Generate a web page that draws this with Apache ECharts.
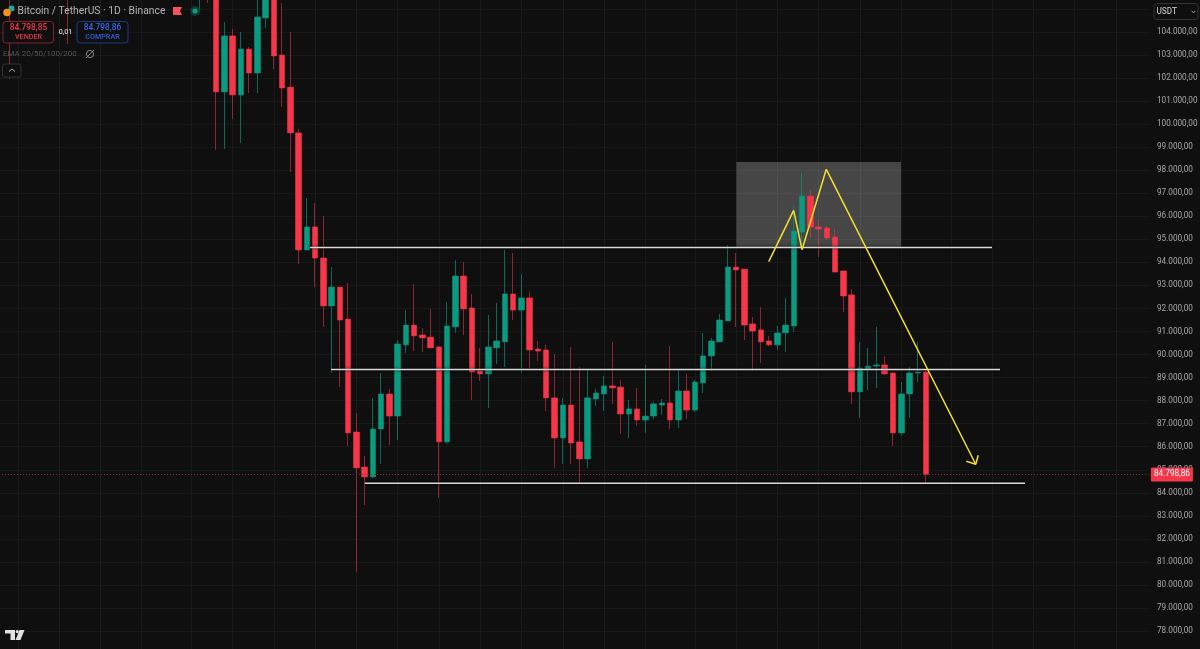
<html>

<head>
    <meta charset='utf-8' />
    <script src="https://cdn.jsdelivr.net/npm/echarts@6/dist/echarts.min.js"></script>
    <title>Bitcoin / TetherUS 1D</title>
    <style>
        html, body { margin: 0; padding: 0; background: #0f0f0f; overflow: hidden; }
        #chart { width: 1200px; height: 649px; }
    </style>
</head>

<body>
    <div id="chart"></div>
    <script type="text/javascript">
        // candles 0..86, left to right
        var opens = [105480,101400,103830,101270,103260,102220,104610,105600,103000,101610,99620,94540,95540,94190,92110,92930,91540,86640,85120,84690,86770,88290,87330,90420,91280,90850,90760,90330,86210,91200,93410,92020,89290,89160,90290,90550,92630,91930,92460,90240,90200,88120,86380,87810,86210,85470,88070,88290,88640,88590,87420,87640,87160,87330,87810,87900,87160,88420,87590,88770,89940,90550,91460,93800,93710,91330,91070,90590,90420,90940,91240,95320,96880,95540,95490,95100,93630,92590,88380,89370,89500,89550,89200,86600,88290,89200,89240];
        var closes = [101400,103830,101270,103260,102220,104650,105600,102960,101570,99620,94540,95540,94190,92110,92930,91500,86600,85080,84690,86770,88290,87330,90460,91280,90810,90720,90290,86210,91240,93410,91980,89240,89160,90330,90590,92630,91930,92460,90200,90150,88120,86380,87810,86160,85470,88120,88330,88640,88550,87420,87640,87160,87330,87860,87900,87160,88420,87590,88810,89940,90590,91500,93800,93670,91280,91020,90550,90420,90940,91280,95360,96880,95540,95450,95060,93580,92540,88380,89420,89500,89550,89160,86600,88290,89200,89240,84798.86];
        var highs = [106100,104430,104130,104000,103350,105480,106100,106200,105260,104000,99790,96800,96580,96010,93800,92930,93110,87460,85600,88120,89200,88510,90630,91930,93060,91150,91980,90370,92280,94100,94020,92630,90290,91720,92240,94540,94410,93500,92720,90590,90420,90030,88120,90330,89460,89370,88510,89070,90550,88900,88030,88550,89550,87940,88070,90370,89370,89160,88900,90940,90720,91760,94760,94410,93710,91630,92070,90810,91240,92460,96450,97880,97140,95840,95580,95450,93630,92850,90550,90290,91200,89940,89240,88810,89460,90550,89370];
        var lows = [98880,98920,100220,99180,101350,101350,104170,102390,100750,97920,93930,94540,92930,91200,89200,88590,86030,80560,83470,84640,85250,86080,86290,90070,90150,90110,90290,83780,86120,90940,90850,88030,88850,87680,89590,89460,91500,89200,89420,89720,87550,85080,85250,85250,84430,85080,87770,87550,87860,86550,86380,86900,86600,87200,87380,86770,86810,87200,87510,88330,89290,90550,91460,91200,90630,89290,89630,90370,90200,90110,90980,94540,95060,94230,94970,93580,91850,87860,87250,88460,88550,89110,86030,86470,87250,88810,84380];

        // partly visible candles left of candle 0, only their wicks reach the frame
        var leftIndex = [-25, -18, -2, -1];
        var leftOpens = [107500, 107200, 106300, 107400];
        var leftCloses = [106800, 106600, 107000, 106500];
        var leftHighs = [108000, 108000, 107500, 107800];
        var leftLows = [101960, 103480, 104820, 105260];

        var lastPrice = 84798.86;

        // drawings, x is in candle numbers
        var levelTop = [[11.39, 94647], [93.99, 94647]];
        var levelMid = [[13.93, 89352], [94.96, 89352]];
        var levelLow = [[18.01, 84413], [97.98, 84413]];
        var zoneBox = [[63.04, 98358], [82.97, 94647]];
        var zigzag = [[66.95, 94031], [69.97, 96261], [70.98, 94551], [73.92, 98041], [92.02, 85238]];
        var arrowHead = [[92.33, 85628], [92.02, 85238], [90.88, 85368]];

        // candle numbers of the vertical grid
        var gridCandles = [-24, -19, -14, -9, -3, 2, 7, 12, 17, 22, 27, 32, 37, 42, 47, 52, 58, 63, 68, 73, 78, 83, 89, 94, 99, 104, 109];

        var firstCandle = -27, lastCandle = 113;
        var red = '#f7364a', teal = '#099a80';
        var redWick = 'rgba(247,54,74,0.55)', tealWick = 'rgba(9,154,128,0.65)';
        var textFont = 'Roboto, sans-serif';

        var categories = [], wickData = [], bodyData = [];
        for (var c = firstCandle; c <= lastCandle; c++) {
            categories.push(String(c));
            wickData.push('-');
            bodyData.push('-');
        }

        function putCandle(i, o, cl, h, l) {
            var k = i - firstCandle;
            wickData[k] = [o, cl, l, h];
            bodyData[k] = [o, cl, Math.min(o, cl), Math.max(o, cl)];
        }
        leftIndex.forEach(function(i, n) {
            putCandle(i, leftOpens[n], leftCloses[n], leftHighs[n], leftLows[n]);
        });
        opens.forEach(function(o, i) {
            putCandle(i, o, closes[i], highs[i], lows[i]);
        });

        function priceText(v) {
            var s = v.toFixed(2).split('.');
            return s[0].replace(/\B(?=(\d{3})+$)/g, '.') + ',' + s[1];
        }

        function lineSeries(points, color, width, extra) {
            var s = {
                type: 'line',
                xAxisIndex: 1,
                yAxisIndex: 0,
                data: points,
                showSymbol: false,
                silent: true,
                z: 6,
                lineStyle: { color: color, width: width }
            };
            for (var key in extra) s[key] = extra[key];
            return s;
        }

        var levelStyle = { color: '#dadada', width: 1.5, shadowColor: '#000', shadowBlur: 3 };

        var chart = echarts.init(document.getElementById('chart'), null, { renderer: 'canvas' });
        chart.setOption({
            animation: false,
            backgroundColor: '#0f0f0f',
            grid: { left: -6.91, right: 51.07, top: -14.08, bottom: -5.08, outerBoundsMode: 'none' },
            xAxis: [{
                type: 'category',
                data: categories,
                boundaryGap: false,
                axisLine: { show: false },
                axisTick: { show: false },
                axisLabel: { show: false },
                splitLine: {
                    show: true,
                    interval: function(idx) {
                        return gridCandles.indexOf(idx + firstCandle) >= 0;
                    },
                    lineStyle: { color: '#1a1a1a', width: 1 }
                }
            }, {
                type: 'value',
                min: firstCandle,
                max: lastCandle,
                show: false
            }],
            yAxis: {
                type: 'value',
                position: 'right',
                min: 77000,
                max: 106000,
                interval: 1000,
                axisLine: { show: false },
                axisTick: { show: false },
                splitLine: { lineStyle: { color: '#181818', width: 1 } },
                axisLabel: {
                    color: '#a8a8a8',
                    fontFamily: textFont,
                    fontSize: 8.2,
                    margin: 8,
                    formatter: function(v) {
                        return (v > 104000 || v < 78000) ? '' : priceText(v);
                    }
                }
            },
            series: [
                lineSeries([], '#000', 0, {
                    z: 1,
                    markArea: {
                        silent: true,
                        itemStyle: { color: 'rgba(255,255,255,0.23)' },
                        data: [[{ coord: zoneBox[0] }, { coord: zoneBox[1] }]]
                    }
                }),
                {
                    type: 'candlestick',
                    data: wickData,
                    barWidth: 1,
                    silent: true,
                    z: 2,
                    itemStyle: {
                        color: tealWick,
                        color0: redWick,
                        borderColor: tealWick,
                        borderColor0: redWick
                    }
                },
                {
                    type: 'candlestick',
                    data: bodyData,
                    barWidth: 6,
                    silent: true,
                    z: 3,
                    itemStyle: {
                        // open above close is the falling candle, color0 in echarts
                        color: teal,
                        color0: red,
                        borderColor: teal,
                        borderColor0: red,
                        borderWidth: 0.5
                    }
                },
                lineSeries(levelTop, levelStyle.color, levelStyle.width, { lineStyle: levelStyle }),
                lineSeries(levelMid, levelStyle.color, levelStyle.width, { lineStyle: levelStyle }),
                lineSeries(levelLow, levelStyle.color, levelStyle.width, { lineStyle: levelStyle }),
                lineSeries(zigzag, '#f2e02e', 1.5),
                lineSeries(arrowHead, '#f2e02e', 1.5),
                lineSeries([], '#000', 0, {
                    z: 5,
                    markLine: {
                        silent: true,
                        symbol: 'none',
                        lineStyle: { color: '#8a2a36', type: [1, 2], width: 1 },
                        label: {
                            position: 'end',
                            distance: 2,
                            formatter: function() { return priceText(lastPrice); },
                            color: '#fff',
                            fontFamily: textFont,
                            fontSize: 8.2,
                            backgroundColor: '#f7364a',
                            padding: [3, 3, 3, 3],
                            borderRadius: 1
                        },
                        data: [{ yAxis: lastPrice }]
                    }
                })
            ],
            graphic: [
                // coin logo
                { type: 'circle', shape: { cx: 11.5, cy: 8.5, r: 3 }, style: { fill: '#26a69a' }, z: 20 },
                { type: 'circle', shape: { cx: 7, cy: 12.5, r: 3.8 }, style: { fill: '#f7931a' }, z: 21 },
                { type: 'text', x: 17.5, y: 11, style: { text: 'Bitcoin / TetherUS · 1D · Binance', fill: '#b4b4b4', font: '400 10.3px ' + textFont, verticalAlign: 'middle' }, z: 20 },
                { type: 'polygon', shape: { points: [[173, 7], [182, 7], [180, 11], [182, 15], [173, 15]] }, style: { fill: '#f7525f' }, z: 20 },
                { type: 'circle', shape: { cx: 195, cy: 11, r: 5 }, style: { fill: '#0e3a33' }, z: 20 },
                { type: 'circle', shape: { cx: 195, cy: 11, r: 2.5 }, style: { fill: '#0f9d80' }, z: 21 },
                // sell and buy boxes
                { type: 'rect', shape: { x: 3, y: 21.5, width: 50.5, height: 21.5, r: 3 }, style: { fill: '#0f0f0f', stroke: '#7c2630', lineWidth: 1 }, z: 20 },
                { type: 'text', x: 28.5, y: 27.5, style: { text: '84.798,85', fill: '#f23a48', font: '500 8.4px ' + textFont, align: 'center', verticalAlign: 'middle' }, z: 21 },
                { type: 'text', x: 28.5, y: 37, style: { text: 'VENDER', fill: '#e03542', font: '500 7.2px ' + textFont, align: 'center', verticalAlign: 'middle' }, z: 21 },
                { type: 'text', x: 65.5, y: 32, style: { text: '0,01', fill: '#cfcfcf', font: '500 7px ' + textFont, align: 'center', verticalAlign: 'middle' }, z: 21 },
                { type: 'rect', shape: { x: 77, y: 21.5, width: 51, height: 21.5, r: 3 }, style: { fill: '#0f0f0f', stroke: '#1e3a80', lineWidth: 1 }, z: 20 },
                { type: 'text', x: 102.5, y: 27.5, style: { text: '84.798,86', fill: '#3468ea', font: '500 8.4px ' + textFont, align: 'center', verticalAlign: 'middle' }, z: 21 },
                { type: 'text', x: 102.5, y: 37, style: { text: 'COMPRAR', fill: '#2f60d8', font: '500 7.2px ' + textFont, align: 'center', verticalAlign: 'middle' }, z: 21 },
                // indicator row
                { type: 'text', x: 3, y: 54, style: { text: 'EMA 20/50/100/200', fill: '#555555', font: '400 8px ' + textFont, verticalAlign: 'middle' }, z: 21 },
                { type: 'circle', shape: { cx: 90, cy: 54, r: 3.6 }, style: { fill: 'none', stroke: '#8a8a8a', lineWidth: 1 }, z: 21 },
                { type: 'line', shape: { x1: 86, y1: 58, x2: 94, y2: 50 }, style: { stroke: '#8a8a8a', lineWidth: 1 }, z: 21 },
                { type: 'rect', shape: { x: 2.5, y: 64, width: 18.5, height: 13, r: 2 }, style: { fill: '#0f0f0f', stroke: '#333333', lineWidth: 1 }, z: 20 },
                { type: 'polyline', shape: { points: [[9, 71.5], [12, 69], [15, 71.5]] }, style: { fill: 'none', stroke: '#a8a8a8', lineWidth: 1 }, z: 21 },
                // currency box
                { type: 'rect', shape: { x: 1154, y: 3.5, width: 44, height: 16, r: 3 }, style: { fill: '#0f0f0f', stroke: '#333333', lineWidth: 1 }, z: 20 },
                { type: 'text', x: 1156.5, y: 11.5, style: { text: 'USDT', fill: '#b4b4b4', font: '500 8.2px ' + textFont, verticalAlign: 'middle' }, z: 21 },
                { type: 'polyline', shape: { points: [[1191.5, 11], [1193.5, 12.5], [1195.5, 11]] }, style: { fill: 'none', stroke: '#a8a8a8', lineWidth: 1 }, z: 21 },
                // chart vendor mark
                { type: 'polygon', shape: { points: [[5, 630], [15, 630], [15, 640], [10.5, 640], [10.5, 633.5], [5, 633.5]] }, style: { fill: '#e0e0e0' }, z: 21 },
                { type: 'polygon', shape: { points: [[19.5, 630], [24.5, 630], [20.5, 640], [15.5, 640]] }, style: { fill: '#e0e0e0' }, z: 21 },
                { type: 'circle', shape: { cx: 17.2, cy: 631.6, r: 1.6 }, style: { fill: '#e0e0e0' }, z: 21 }
            ]
        });
    </script>
</body>

</html>
